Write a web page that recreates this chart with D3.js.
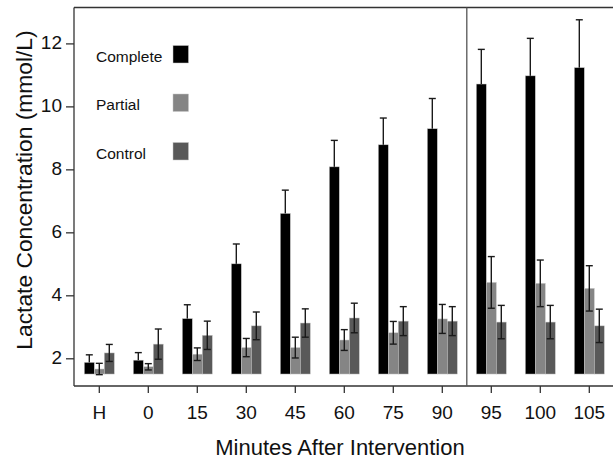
<!DOCTYPE html>
<html>
<head>
<meta charset="utf-8">
<script src="https://cdn.jsdelivr.net/npm/d3@7"></script>
<style>
html,body{margin:0;padding:0;background:#fff;}
svg text{font-family:"Liberation Sans",Arial,Helvetica,sans-serif;fill:#111;}
</style>
</head>
<body>
<svg id="chart" width="613" height="461"></svg>
<script>
const categories = ["H","0","15","30","45","60","75","90","95","100","105"];
const seriesNames = ["Complete","Partial","Control"];
const completeMean = [1.87,1.94,3.26,5.00,6.60,8.08,8.78,9.29,10.71,10.97,11.23];
const completeErr  = [0.24,0.24,0.44,0.63,0.74,0.84,0.85,0.96,1.10,1.19,1.52];
const partialMean  = [1.66,1.73,2.13,2.34,2.34,2.58,2.81,3.25,4.41,4.38,4.22];
const partialErr   = [0.18,0.10,0.20,0.29,0.33,0.33,0.36,0.46,0.82,0.74,0.72];
const controlMean  = [2.17,2.45,2.73,3.03,3.12,3.28,3.18,3.18,3.15,3.15,3.03];
const controlErr   = [0.27,0.48,0.45,0.44,0.45,0.47,0.46,0.46,0.53,0.53,0.53];
const yTicks = [2,4,6,8,10,12];
const barBase = 1.5;
const colors = ["#000000","#858585","#595959"];

const svg = d3.select("#chart");
const pLeft = 74, pRight = 613, pTop = 7.5, pBottom = 386;

const x = d3.scaleBand().domain(categories).range([74.8, 613.8])
  .paddingInner(0.388).paddingOuter(0.194);
const xs = d3.scaleBand().domain(seriesNames).range([0, x.bandwidth()]);
const y = d3.scaleLinear().domain([1.12, 13.14]).range([pBottom, pTop]);

const means = [completeMean, partialMean, controlMean];
const errs = [completeErr, partialErr, controlErr];

const data = [];
categories.forEach((c, i) => {
  seriesNames.forEach((s, k) => {
    data.push({cat: c, series: s, k: k, mean: means[k][i], err: errs[k][i]});
  });
});

// bars
svg.append("g").selectAll("rect").data(data).join("rect")
  .attr("x", d => x(d.cat) + xs(d.series))
  .attr("width", xs.bandwidth())
  .attr("y", d => y(d.mean))
  .attr("height", d => y(barBase) - y(d.mean))
  .attr("fill", d => colors[d.k])
  .attr("stroke", "#c8c8c8")
  .attr("stroke-width", 0.5);

// error bars
const eg = svg.append("g").attr("stroke", "#1a1a1a").attr("stroke-width", 1.4);
data.forEach(d => {
  const cx = x(d.cat) + xs(d.series) + xs.bandwidth() / 2;
  const yTop = y(d.mean + d.err);
  const yBot = d.k === 0 ? y(d.mean) : y(d.mean - d.err);
  eg.append("line").attr("x1", cx).attr("x2", cx).attr("y1", yTop).attr("y2", yBot);
  eg.append("line").attr("x1", cx - 3.5).attr("x2", cx + 3.5).attr("y1", yTop).attr("y2", yTop);
  if (d.k !== 0) {
    eg.append("line").attr("x1", cx - 3.5).attr("x2", cx + 3.5).attr("y1", yBot).attr("y2", yBot);
  }
});

// frame
const fg = svg.append("g").attr("stroke", "#333").attr("stroke-width", 1.3).attr("fill", "none");
fg.append("line").attr("x1", pLeft).attr("x2", pRight).attr("y1", pTop).attr("y2", pTop);
fg.append("line").attr("x1", pLeft).attr("x2", pRight).attr("y1", pBottom).attr("y2", pBottom);
const divX = (x("90") + x.bandwidth() + x("95")) / 2;
fg.append("line").attr("x1", divX).attr("x2", divX).attr("y1", pTop).attr("y2", pBottom).attr("stroke", "#555");

// y axis
const yAxis = svg.append("g").attr("transform", `translate(${pLeft},0)`)
  .call(d3.axisLeft(y).tickValues(yTicks).tickSize(8).tickPadding(4).tickSizeOuter(0));
yAxis.select(".domain").attr("stroke", "#333").attr("stroke-width", 1.3)
  .attr("d", `M0,${pTop}V${pBottom}`);
yAxis.selectAll(".tick line").attr("stroke", "#333").attr("stroke-width", 1.3);
yAxis.selectAll(".tick text").style("font-size", "19px").attr("fill", "#111").attr("dy", "0.26em")
  .style("font-family", '"Liberation Sans",Arial,sans-serif');

// x axis
const xAxis = svg.append("g").attr("transform", `translate(0,${pBottom})`)
  .call(d3.axisBottom(x).tickSize(7).tickPadding(12.5).tickSizeOuter(0));
xAxis.select(".domain").remove();
xAxis.selectAll(".tick line").attr("stroke", "#333").attr("stroke-width", 1.3);
xAxis.selectAll(".tick text").style("font-size", "19px").attr("fill", "#111")
  .style("font-family", '"Liberation Sans",Arial,sans-serif');

// titles
svg.append("text").attr("x", 340).attr("y", 455).attr("text-anchor", "middle")
  .style("font-size", "22px").text("Minutes After Intervention");
svg.append("text").attr("transform", "translate(32,190) rotate(-90)").attr("text-anchor", "middle")
  .style("font-size", "22.8px").text("Lactate Concentration (mmol/L)");

// legend
const lg = svg.append("g");
seriesNames.forEach((s, k) => {
  const cy = 54.5 + k * 48.5;
  lg.append("text").attr("x", 96).attr("y", cy + 7).style("font-size", "15.5px").text(s);
  lg.append("rect").attr("x", 173).attr("y", cy - 9).attr("width", 15.5).attr("height", 17.5)
    .attr("fill", colors[k]).attr("stroke", "#c8c8c8").attr("stroke-width", 0.5);
});
</script>
</body>
</html>
